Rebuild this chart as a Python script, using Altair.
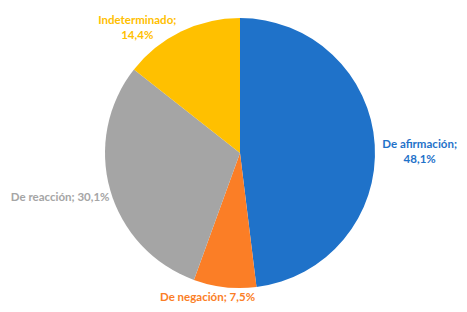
import altair as alt
import pandas as pd

categories = ["De afirmación", "De negación", "De reacción", "Indeterminado"]
values = [48.1, 7.5, 30.1, 14.4]
colors = ["#1F72C9", "#FB7E26", "#A5A5A5", "#FFC000"]
two_line = {"De afirmación", "Indeterminado"}

def fmt(v):
    return f"{v:.1f}".replace(".", ",") + "%"

labels = [f"{c};\n{fmt(v)}" if c in two_line else f"{c}; {fmt(v)}" for c, v in zip(categories, values)]
total = sum(values)

df = pd.DataFrame({"cat": categories, "value": values, "label": labels, "order": list(range(len(categories)))})

color_scale = alt.Scale(domain=categories, range=colors)
theta_scale = alt.Scale(domain=[0, total])
CX, CY = 232, 145

base = alt.Chart(df)

pie = base.mark_arc(radius=135).encode(
    theta=alt.Theta("value:Q", stack=True, scale=theta_scale),
    color=alt.Color("cat:N", scale=color_scale, legend=None),
    order=alt.Order("order:Q"),
    x=alt.value(CX),
    y=alt.value(CY),
)

# (radius, dx, dy) for each label
label_place = {
    "De afirmación": (180, 0, 3),
    "De negación": (146, -16, 0),
    "De reacción": (187, 0, -6),
    "Indeterminado": (146, -39, -1),
}

layers = [pie]
for cat, (r, dx, dy) in label_place.items():
    t = (
        base.transform_window(cum="sum(value)", sort=[alt.SortField("order")])
        .transform_calculate(mid="datum.cum - datum.value / 2")
        .transform_filter(alt.datum.cat == cat)
        .mark_text(radius=r, dx=dx, dy=dy, font="Lato", fontWeight="bold", fontSize=11.5,
                   lineBreak="\n", lineHeight=15, align="center", baseline="middle")
        .encode(
            theta=alt.Theta("mid:Q", stack=None, scale=theta_scale),
            text="label:N",
            color=alt.Color("cat:N", scale=color_scale, legend=None),
            x=alt.value(CX),
            y=alt.value(CY),
        )
    )
    layers.append(t)

chart = alt.layer(*layers).properties(
    width=451, height=296, padding=0, autosize=alt.AutoSizeParams(type="none")
).configure_view(stroke=None)

chart.save("out.html", embed_options={"renderer": "svg", "actions": False})
